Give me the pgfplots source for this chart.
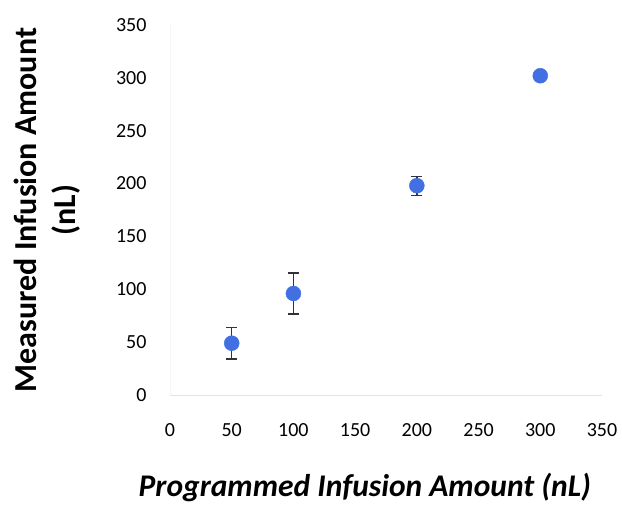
\documentclass[border=0pt]{standalone}
\usepackage{pgfplots}
\pgfplotsset{compat=1.18}
\usepackage{fontspec}
\setmainfont{Carlito}
\definecolor{dotblue}{RGB}{66,112,226}
\definecolor{barcol}{RGB}{50,50,60}
\begin{document}
\begin{tikzpicture}[x=1pt,y=1pt]
\path[use as bounding box] (-170,-113) rectangle (452,395);
\begin{axis}[
  at={(0,0)}, anchor=south west,
  scale only axis, width=432pt, height=370pt,
  xmin=0, xmax=350, ymin=0, ymax=350,
  xtick={0,50,...,350}, ytick={0,50,...,350},
  axis x line=bottom, axis y line=left,
  x axis line style={-, draw=gray!22, line width=0.8pt},
  y axis line style={-, draw=gray!8, line width=0.8pt},
  major tick length=0pt,
  tick style={draw=none},
  /pgf/number format/assume math mode=true,
  ticklabel style={font=\fontsize{20}{24}\selectfont},
  xticklabel style={yshift=-25pt},
  yticklabel style={xshift=-20pt},
  xlabel={\textbf{\textit{Programmed Infusion Amount (nL)}}},
  xlabel style={font=\fontsize{31.5}{36}\selectfont, at={(axis description cs:0.451,-0.251)}, anchor=center},
  ylabel={\fontsize{32}{39}\selectfont\textbf{Measured Infusion Amount}\\\fontsize{32}{39}\selectfont\textbf{(nL)}},
  ylabel style={font=\fontsize{32}{39}\selectfont, align=center, at={(axis description cs:-0.285,0.5)}, anchor=center},
  clip=false,
]
\addplot[only marks, mark=*, mark size=7.5pt, color=dotblue,
  error bars/.cd, y dir=both, y explicit,
  error bar style={color=barcol, line width=1.3pt},
  error mark options={rotate=90, mark size=5.5pt, line width=1.3pt, color=barcol}]
  table[x=x, y=y, y error=e] {
  x   y     e
  50  49    15
  100 96    19.5
  200 198   9
  300 302   1.5
};
\end{axis}
\end{tikzpicture}
\end{document}
